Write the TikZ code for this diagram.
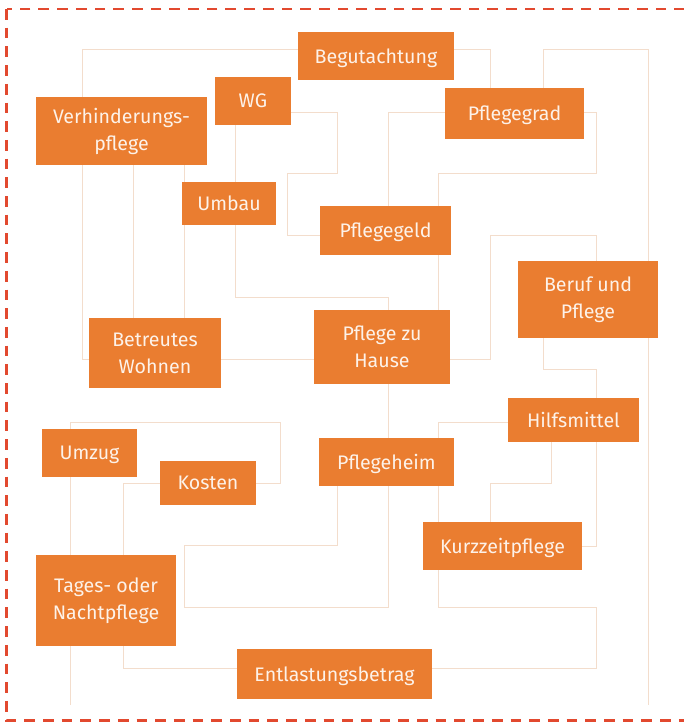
\documentclass[tikz,border=0pt]{standalone}
\usepackage{fontspec}
\setmainfont{Fira Sans}
\pgfdeclarelayer{bg}
\pgfsetlayers{bg,main}
\definecolor{boxfill}{HTML}{EA7D30}
\definecolor{boxtext}{HTML}{FDF2E9}
\definecolor{linkcol}{HTML}{F3DDCC}
\definecolor{framecol}{HTML}{E2492F}
\tikzset{
  topic/.style={fill=boxfill, text=boxtext, inner sep=0pt, align=center,
    font=\fontsize{19.6}{27}\selectfont},
  oneline/.style={topic, text depth=0pt},
  link/.style={draw=linkcol, line width=1pt},
  frame/.style={draw=framecol, line width=2.5pt, dash pattern=on 10.7pt off 8pt}
}
\begin{document}
\begin{tikzpicture}[x=1pt,y=-1pt]
\useasboundingbox (0,0) rectangle (684,725);
\begin{scope}
\clip (0,0) rectangle (684,725);
\draw[frame] (6.7,9) rectangle (700,720.7);
\end{scope}

% nodes
\node[oneline, minimum width=156pt, minimum height=48pt] (begut) at (376,56) {Begutachtung};
\node[oneline, minimum width=76pt, minimum height=48pt] (wg) at (253,101) {WG};
\node[topic, minimum width=171pt, minimum height=68pt] (verh) at (121.5,131) {Verhinderungs-\\pflege};
\node[oneline, minimum width=94pt, minimum height=43pt] (umbau) at (229,203.5) {Umbau};
\node[oneline, minimum width=139pt, minimum height=51pt] (grad) at (514.5,113.5) {Pflegegrad};
\node[oneline, minimum width=131pt, minimum height=49pt] (geld) at (385.5,230.5) {Pflegegeld};
\node[topic, minimum width=140pt, minimum height=77pt] (beruf) at (588,299.5) {Beruf und\\Pflege};
\node[topic, minimum width=136pt, minimum height=74pt] (hause) at (382,347) {Pflege zu\\Hause};
\node[topic, minimum width=132pt, minimum height=70pt] (betreut) at (155,353) {Betreutes\\Wohnen};
\node[oneline, minimum width=95pt, minimum height=48pt] (umzug) at (89.5,453) {Umzug};
\node[oneline, minimum width=96pt, minimum height=44pt] (kosten) at (208,483) {Kosten};
\node[oneline, minimum width=135pt, minimum height=48pt] (heim) at (386.5,462) {Pflegeheim};
\node[oneline, minimum width=131pt, minimum height=44pt] (hilfs) at (573.5,420) {Hilfsmittel};
\node[oneline, minimum width=159pt, minimum height=48pt] (kurz) at (502.5,546) {Kurzzeitpflege};
\node[topic, minimum width=140pt, minimum height=91pt] (tages) at (106,600.5) {Tages- oder\\Nachtpflege};
\node[oneline, minimum width=195pt, minimum height=50pt] (entl) at (334.5,674) {Entlastungsbetrag};

\coordinate (endA) at (648,705);
\coordinate (endB) at (70,705);

\begin{pgfonlayer}{bg}
\draw[link] (begut.west |- 0,50) -| (verh.north -| 82,0);
\draw[link] (verh.south -| 82,0) |- (betreut.west |- 0,359);
\draw[link] (verh.south -| 133,0) -- (betreut.north -| 133,0);
\draw[link] (verh.south -| 184,0) -- (betreut.north -| 184,0);
\draw[link] (wg.south -| 235,0) -- (umbau.north -| 235,0);
\draw[link] (umbau.south -| 235,0) |- (388,297) -- (hause.north -| 388,0);
\draw[link] (wg.east |- 0,112) -- (337,112) -- (337,173) -- (287,173) |- (geld.west |- 0,235);
\draw[link] (begut.east |- 0,50) -| (grad.north -| 490,0);
\draw[link] (grad.north -| 543,0) |- (648,50) -- (endA);
\draw[link] (grad.west |- 0,112) -| (geld.north -| 388,0);
\draw[link] (grad.east |- 0,112) -- (596,112) -- (596,173) -- (438,173) -- (geld.north -| 438,0);
\draw[link] (geld.south -| 438,0) -- (hause.north -| 438,0);
\draw[link] (hause.east |- 0,359) -- (490,359) -- (490,235) -| (beruf.north -| 596,0);
\draw[link] (betreut.east |- 0,359) -- (hause.west |- 0,359);
\draw[link] (hause.south -| 388,0) -- (heim.north -| 388,0);
\draw[link] (beruf.south -| 543,0) |- (596,369) -- (hilfs.north -| 596,0);
\draw[link] (hilfs.south -| 596,0) |- (kurz.east |- 0,546);
\draw[link] (hilfs.west |- 0,422) -| (heim.north -| 438,0);
\draw[link] (heim.south -| 438,0) -- (kurz.north -| 438,0);
\draw[link] (kurz.south -| 438,0) |- (596,607) |- (entl.east |- 0,668);
\draw[link] (hilfs.south -| 551,0) |- (490,483) -- (kurz.north -| 490,0);
\draw[link] (heim.south -| 337,0) |- (184,545) |- (388,607) -- (heim.south -| 388,0);
\draw[link] (umzug.north -| 70,0) |- (280,422) |- (kosten.east |- 0,483);
\draw[link] (umzug.south -| 70,0) -- (tages.north -| 70,0);
\draw[link] (tages.south -| 70,0) -- (endB);
\draw[link] (kosten.west |- 0,483) -| (tages.north -| 123,0);
\draw[link] (tages.south -| 123,0) |- (entl.west |- 0,668);
\end{pgfonlayer}
\end{tikzpicture}
\end{document}
